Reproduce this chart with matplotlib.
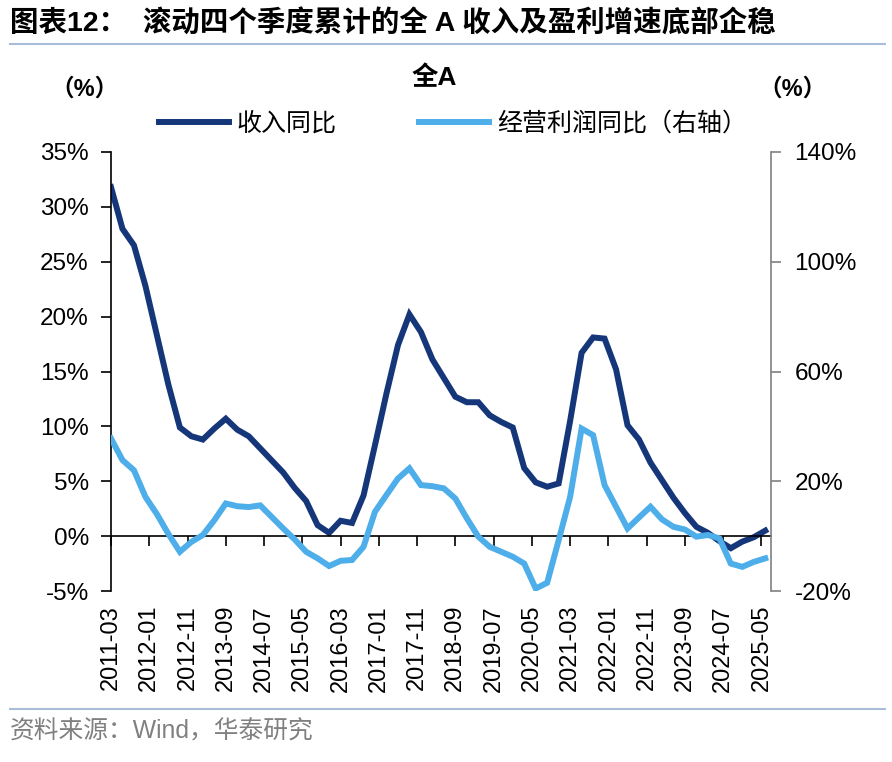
import matplotlib
matplotlib.use("Agg")
import matplotlib.pyplot as plt
from matplotlib.lines import Line2D
import numpy as np

plt.rcParams['font.family'] = ['Liberation Sans', 'Noto Sans CJK SC', 'DejaVu Sans']

# quarterly data, 2011-03 .. 2025-06
revenue = [31.8, 28.0, 26.5, 22.8,
           18.3, 13.8, 9.9, 9.1,
           8.8, 9.8, 10.7, 9.7,
           9.1, 8.0, 6.9, 5.8,
           4.4, 3.2, 1.0, 0.3,
           1.4, 1.2, 3.7, 8.3,
           13.0, 17.4, 20.2, 18.6,
           16.1, 14.4, 12.7, 12.2,
           12.2, 11.0, 10.4, 9.9,
           6.2, 4.9, 4.5, 4.8,
           10.5, 16.7, 18.1, 18.0,
           15.2, 10.1, 8.8, 6.7,
           5.1, 3.5, 2.1, 0.85,
           0.3, -0.45, -1.1, -0.5,
           -0.1, 0.5]
profit = [35.6, 27.7, 24.0, 14.3,
          8.0, 0.8, -5.7, -2.1,
          0.4, 5.8, 11.9, 10.9,
          10.6, 11.2, 7.0, 2.8,
          -1.2, -5.7, -8.1, -10.9,
          -9.0, -8.7, -3.9, 8.9,
          15.0, 21.0, 24.7, 18.6,
          18.2, 17.4, 13.7, 6.5,
          -0.2, -3.9, -5.7, -7.5,
          -10.0, -19.1, -17.0, -1.5,
          14.3, 39.2, 36.8, 18.6,
          10.7, 2.8, 6.8, 10.7,
          6.1, 3.4, 2.4, -0.2,
          0.4, -0.8, -10.0, -11.2,
          -9.4, -8.1]
tick_labels = ['2011-03', '2012-01', '2012-11', '2013-09', '2014-07', '2015-05',
               '2016-03', '2017-01', '2017-11', '2018-09', '2019-07', '2020-05',
               '2021-03', '2022-01', '2022-11', '2023-09', '2024-07', '2025-05']

# months since 2011-03
x = np.arange(len(revenue)) * 3
tick_pos = [(int(t[:4]) - 2011) * 12 + int(t[5:]) - 3 for t in tick_labels]

dark = '#15377A'
light = '#4EAEEA'

fig = plt.figure(figsize=(8.92, 7.62), dpi=100)
W, H = 892, 762
ax = fig.add_axes([111 / W, 1 - 591 / H, 660 / W, 439 / H])
ax2 = ax.twinx()

ax.plot(x, revenue, color=dark, lw=4.3, solid_joinstyle='miter')
ax2.plot(x, profit, color=light, lw=4.3, solid_joinstyle='miter')

ax.set_xlim(0, 172.5)
ax.set_ylim(-5, 35)
ax2.set_ylim(-20, 140)
ax.set_yticks(range(-5, 36, 5))
ax.set_yticklabels([f'{v}%' for v in range(-5, 36, 5)])
ax2.set_yticks(range(-20, 141, 40))
ax2.set_yticklabels([f'{v}%' for v in range(-20, 141, 40)])

for a in (ax, ax2):
    a.spines['top'].set_visible(False)
ax.spines['right'].set_visible(False)
ax2.spines['left'].set_visible(False)
ax2.spines['bottom'].set_visible(False)
ax.spines['left'].set_linewidth(1.2)
ax2.spines['right'].set_color('#808080')
ax2.spines['right'].set_linewidth(1.2)

# zero line carries the x ticks
ax.spines['bottom'].set_position(('data', 0))
ax.spines['bottom'].set_linewidth(1.2)
ax.set_xticks(tick_pos)
ax.tick_params(axis='x', direction='out', length=7, width=1.2, labelbottom=False)
ax.tick_params(axis='y', direction='out', length=7, width=1.2, labelsize=17.5, pad=9)
ax2.tick_params(axis='y', direction='out', length=7, width=1.2, color='#808080',
                labelsize=17.5, pad=10)

sec = ax.secondary_xaxis('bottom')
sec.set_xticks(tick_pos)
sec.set_xticklabels(tick_labels, rotation=90)
sec.tick_params(length=0, labelsize=17, pad=10)
sec.spines['bottom'].set_visible(False)

# header / footer
fig.text(10 / W, 1 - 24 / H, '图表12：  滚动四个季度累计的全 A 收入及盈利增速底部企稳',
         fontsize=20.5, fontweight='bold', va='center', ha='left')
fig.add_artist(Line2D([10 / W, 885 / W], [1 - 44 / H, 1 - 44 / H], color='#A9BCD8', lw=1.5))
fig.add_artist(Line2D([10 / W, 885 / W], [1 - 709 / H, 1 - 709 / H], color='#A9BCD8', lw=1.5))
fig.text(10 / W, 1 - 732 / H, '资料来源：Wind，华泰研究', fontsize=17.8, color='#808080',
         va='center', ha='left')

fig.text(434 / W, 1 - 78 / H, '全A', fontsize=19, fontweight='bold', ha='center', va='center')
fig.text(84 / W, 1 - 89 / H, '（%）', fontsize=17, fontweight='bold', ha='center', va='center')
fig.text(793 / W, 1 - 89 / H, '（%）', fontsize=17, fontweight='bold', ha='center', va='center')

handles = [Line2D([], [], color=dark, lw=4.3), Line2D([], [], color=light, lw=4.3)]
fig.legend(handles, ['收入同比', '经营利润同比（右轴）'], loc='center',
           bbox_to_anchor=(453 / W, 1 - 124 / H), ncol=2, frameon=False,
           fontsize=18, handlelength=2.8, handletextpad=0.3, columnspacing=3.3)

fig.savefig('out.png', dpi=100)
